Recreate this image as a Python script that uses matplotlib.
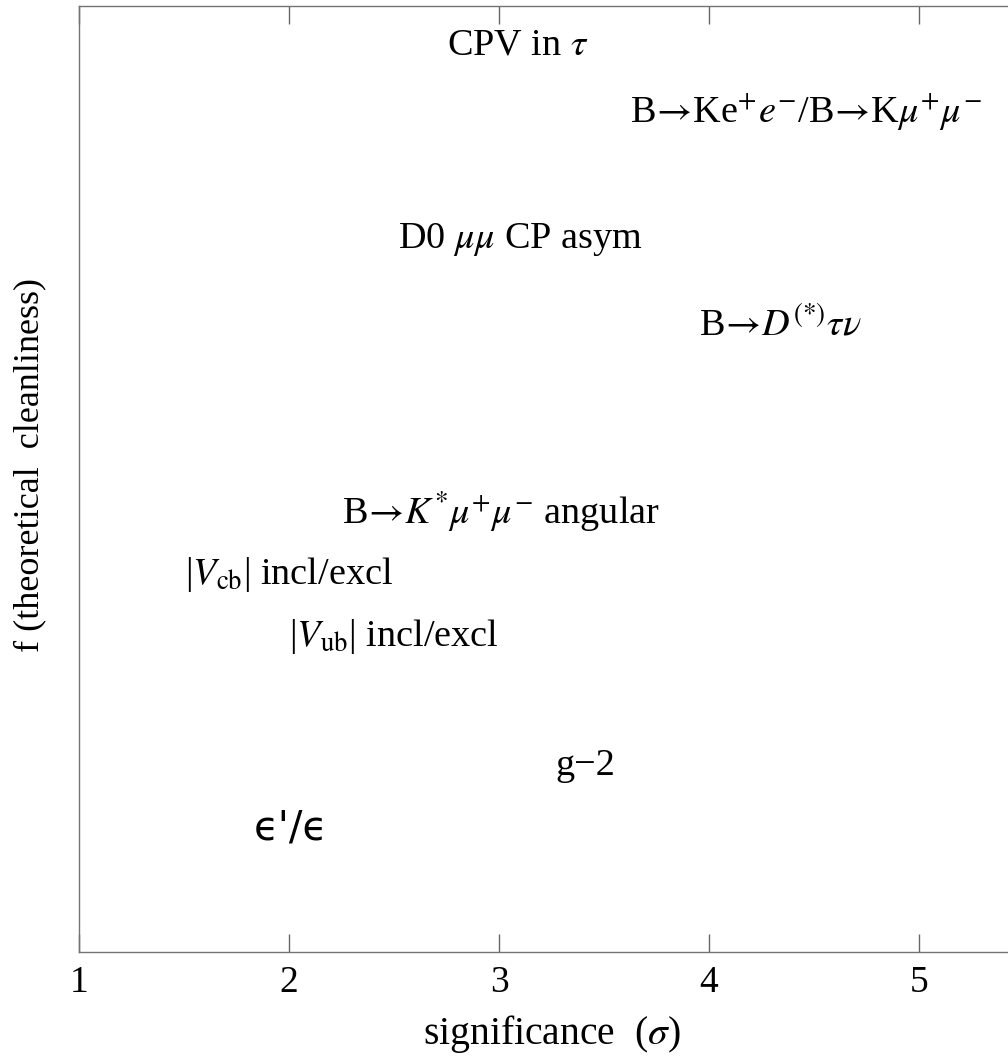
import numpy as np
import matplotlib
matplotlib.use("Agg")
import matplotlib.pyplot as plt

plt.rcParams['font.family'] = ['Liberation Serif', 'DejaVu Sans']
plt.rcParams['mathtext.fontset'] = 'stix'

ARR = r"$\!\rightarrow\!$"

# anomaly labels placed at (significance, cleanliness)
labels = [
    r"CPV in $\tau$",
    "B" + ARR + r"Ke$^{+}e^{-}$/B" + ARR + r"K$\mu^{+}\mu^{-}$",
    r"D0 $\mu\mu$ CP asym",
    "B" + ARR + r"$D^{(*)}\tau\nu$",
    "B" + ARR + r"$K^{*}\mu^{+}\mu^{-}$ angular",
    r"|$V_{\rm cb}$| incl/excl",
    r"|$V_{\rm ub}$| incl/excl",
    "g−2",
    "ϵ'/ϵ",
]
significance = [3.09, 4.46, 3.10, 4.34, 3.01, 2.00, 2.50, 3.41, 2.01]
cleanliness = [0.959, 0.888, 0.753, 0.663, 0.465, 0.399, 0.334, 0.197, 0.131]

xticks = [1, 2, 3, 4, 5]

fig = plt.figure(figsize=(10.08, 10.56), dpi=100)
# axes runs past the right edge of the figure, like the cropped original
ax = fig.add_axes([79 / 1008, 1 - 952 / 1056, (4.5 * 210) / 1008, 946 / 1056])

for lab, x, y in zip(labels, significance, cleanliness):
    if lab.startswith('ϵ'):
        ax.text(x, y, lab, ha='center', va='center', fontsize=29,
                family=['DejaVu Sans'])
    else:
        ax.text(x, y, lab, ha='center', va='center', fontsize=27.5)

ax.set_xlim(1, 5.5)
ax.set_ylim(0, 1)
ax.set_xticks(xticks)
ax.set_xticklabels([str(t) for t in xticks])
ax.set_yticks([])
ax.tick_params(axis='x', direction='in', length=13, width=1.0, color='0.4',
               top=True, labelsize=27, pad=10)
for s in ax.spines.values():
    s.set_color('0.45')
    s.set_linewidth(1.0)

ax.set_xlabel(r"significance  ($\sigma$)", fontsize=28.5, labelpad=9)
ax.set_ylabel("f (theoretical  cleanliness)", fontsize=26)
ax.yaxis.set_label_coords(-0.035, 0.515)

fig.savefig("out.png", dpi=100)
